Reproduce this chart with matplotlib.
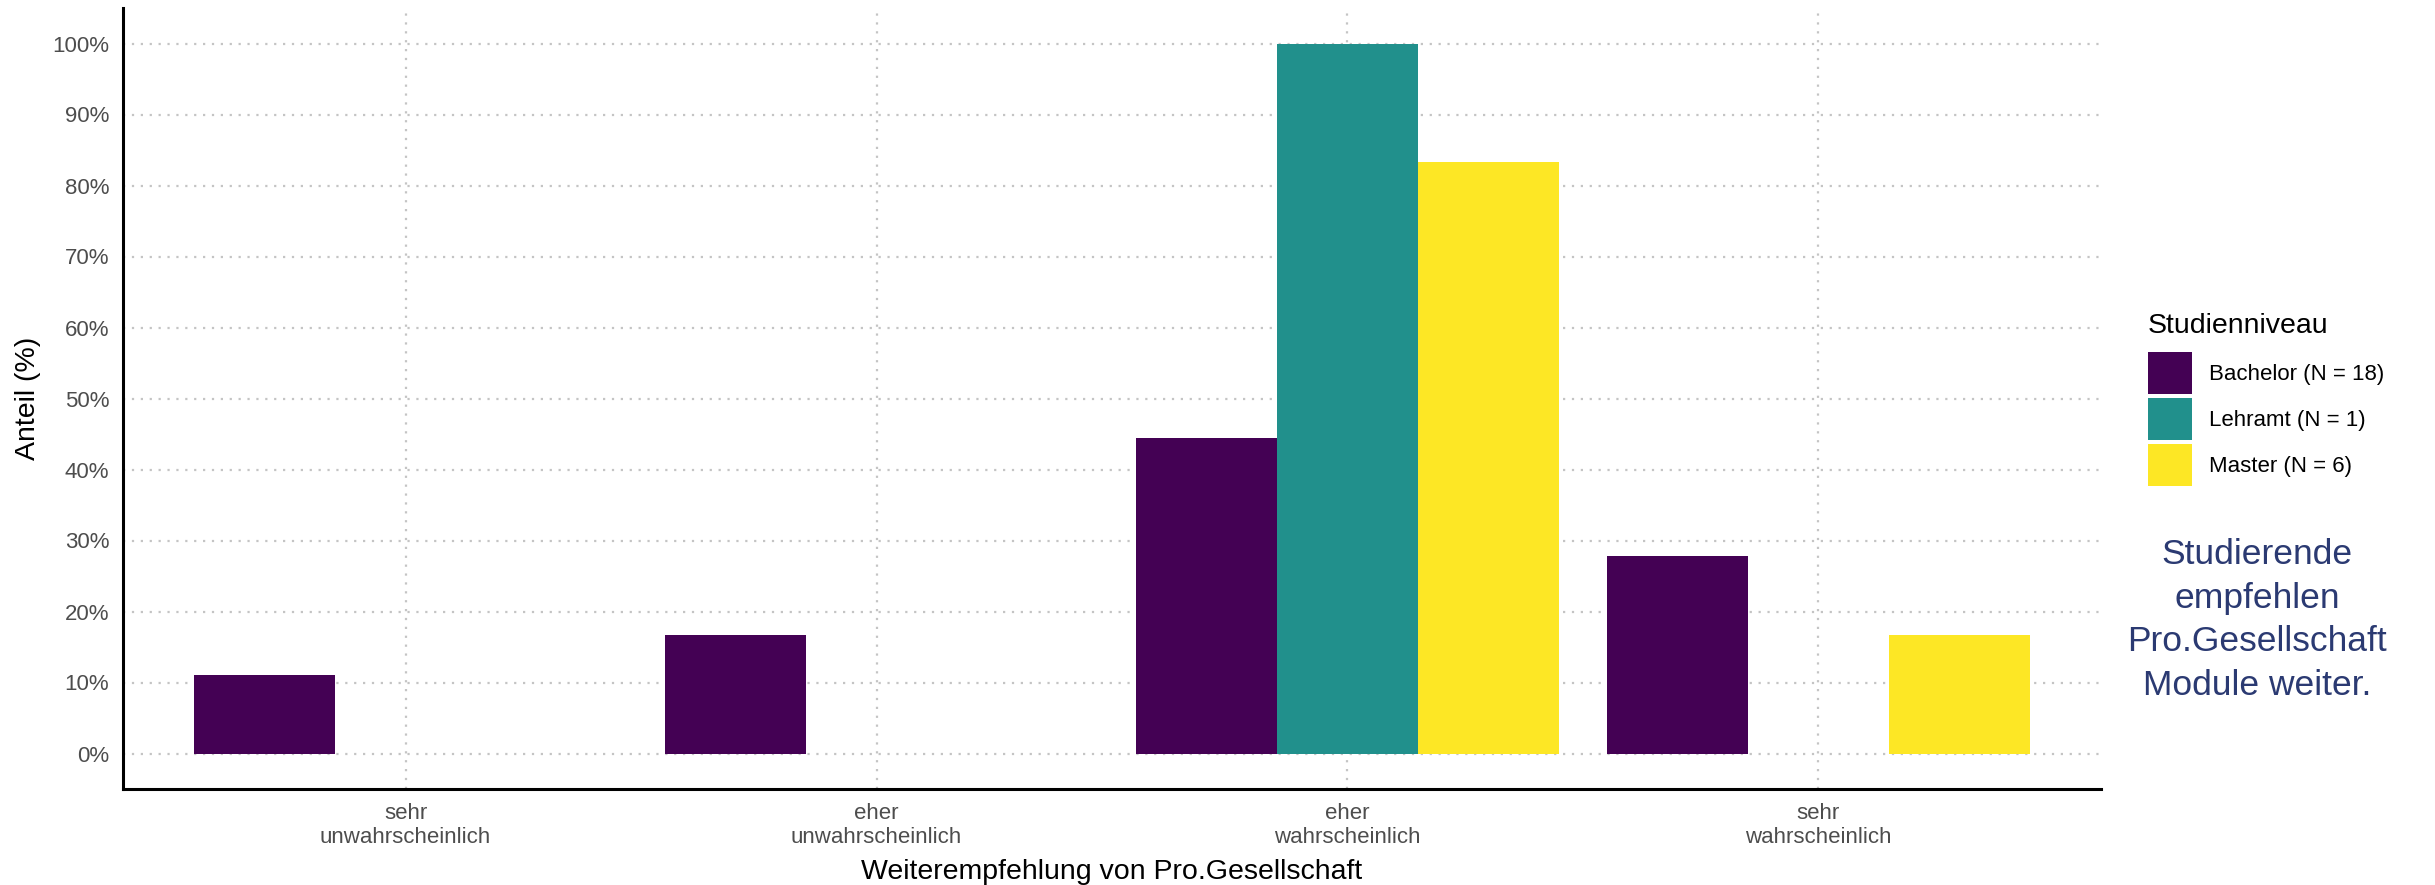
import matplotlib.pyplot as plt
from matplotlib.patches import Patch
import numpy as np

plt.rcParams['font.family'] = ['Liberation Sans', 'DejaVu Sans']

# Daten
kategorien = ["sehr\nunwahrscheinlich", "eher\nunwahrscheinlich", "eher\nwahrscheinlich", "sehr\nwahrscheinlich"]
gruppen = ["Bachelor (N = 18)", "Lehramt (N = 1)", "Master (N = 6)"]
bachelor = [11.1, 16.7, 44.4, 27.8]
lehramt = [0, 0, 100, 0]
master = [0, 0, 83.3, 16.7]
farben = ["#440154", "#21908C", "#FDE725"]

fig = plt.figure(figsize=(24.35, 8.85), dpi=100)
ax = fig.add_axes([123 / 2435, 1 - 789 / 885, (2101 - 123) / 2435, (789 - 8) / 885])

x = np.arange(1, len(kategorien) + 1)
breite = 0.3
for i, (werte, farbe) in enumerate(zip([bachelor, lehramt, master], farben)):
    for xi, w in zip(x, werte):
        if w > 0:
            ax.bar(xi + (i - 1) * breite, w, width=breite, color=farbe, linewidth=0, zorder=2)

ax.set_xlim(0.4, 4.6)
ax.set_ylim(-5, 105)
ax.set_yticks(range(0, 101, 10))
ax.set_yticklabels([f"{v}%" for v in range(0, 101, 10)])
ax.set_xticks(x)
ax.set_xticklabels(kategorien)

ax.grid(True, linestyle=(0, (1, 3)), color="#c4c4c4", linewidth=1.6, zorder=0)
ax.tick_params(axis="both", length=0, labelsize=16, labelcolor="#4d4d4d", pad=10)
for s in ["top", "right"]:
    ax.spines[s].set_visible(False)
for s in ["left", "bottom"]:
    ax.spines[s].set_linewidth(2.2)
    ax.spines[s].set_color("black")

ax.set_xlabel("Weiterempfehlung von Pro.Gesellschaft", fontsize=20.5, labelpad=7.5)
ax.set_ylabel("Anteil (%)", fontsize=20.5, labelpad=8)

# Legende (Titel separat gesetzt)
handles = [Patch(facecolor=f, edgecolor="none") for f in farben]
leg = fig.legend(handles, gruppen, loc="upper left", bbox_to_anchor=(2128 / 2435, 1 - 332 / 885),
                 fontsize=16, frameon=False,
                 handlelength=1.98, handleheight=2.53, labelspacing=0.18, handletextpad=0.77)
fig.text(2148 / 2435, 1 - 333 / 885, "Studienniveau", fontsize=20.5, ha="left", va="baseline")

fig.text(2257 / 2435, 1 - 620 / 885, "Studierende\nempfehlen\nPro.Gesellschaft\nModule weiter.",
         ha="center", va="center", fontsize=25.5, color="#2b3a72", linespacing=1.4)

fig.savefig("out.png", dpi=100)
